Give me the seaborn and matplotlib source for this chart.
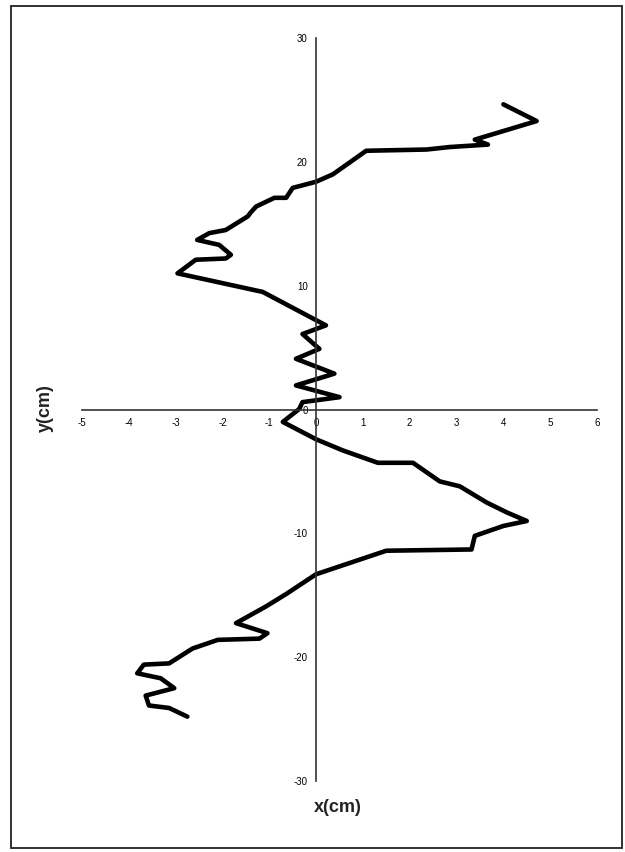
import pandas as pd
import seaborn as sns
import matplotlib.pyplot as plt
from matplotlib.patches import Rectangle

# path of the trace (top start -> bottom end)
x_cm = [4.0, 4.71, 3.39, 3.67, 2.85, 2.36, 1.07, 0.36, 0.0, -0.5, -0.64, -0.89,
        -1.28, -1.4, -1.46, -1.93, -2.28, -2.54, -2.07, -1.82, -1.93, -2.57, -2.96,
        -1.14, 0.21, -0.29, 0.07, -0.43, 0.39, -0.43, 0.5, -0.29, -0.36, -0.71,
        0.0, 0.57, 1.32, 2.07, 2.64, 3.07, 3.64, 4.07, 4.5, 4.0, 3.39, 3.32, 1.5,
        0.0, -0.64, -1.07, -1.71, -1.04, -1.21, -2.1, -2.64, -3.14, -3.68, -3.82,
        -3.32, -3.03, -3.64, -3.57, -3.14, -2.75]
y_cm = [24.65, 23.3, 21.8, 21.4, 21.2, 21.0, 20.9, 19.0, 18.4, 17.9, 17.1, 17.1,
        16.4, 15.9, 15.6, 14.5, 14.25, 13.7, 13.3, 12.5, 12.2, 12.1, 11.0,
        9.5, 6.8, 6.1, 4.9, 4.1, 2.9, 1.95, 1.0, 0.6, 0.05, -1.0,
        -2.4, -3.3, -4.3, -4.3, -5.8, -6.2, -7.5, -8.3, -9.0, -9.4, -10.2, -11.3, -11.4,
        -13.3, -14.9, -15.9, -17.25, -18.06, -18.5, -18.6, -19.3, -20.5, -20.6, -21.3,
        -21.7, -22.5, -23.1, -23.9, -24.1, -24.8]
x_ticks = [-5, -4, -3, -2, -1, 0, 1, 2, 3, 4, 5, 6]
y_ticks = [-30, -20, -10, 0, 10, 20, 30]

df = pd.DataFrame({"x": x_cm, "y": y_cm})

sns.set_style("white")
plt.rcParams['font.family'] = ['Liberation Sans', 'DejaVu Sans']

fig = plt.figure(figsize=(6.25, 8.52), dpi=100)
ax = fig.add_axes([0.1312, 0.0833, 0.824, 0.872])

sns.lineplot(data=df, x="x", y="y", sort=False, estimator=None,
             color="black", linewidth=3.3, ax=ax)

ax.set_xlim(-5, 6)
ax.set_ylim(-30, 30)
ax.set_xticks(x_ticks)
ax.set_yticks(y_ticks)
ax.set_xticklabels([str(t) for t in x_ticks])
ax.set_yticklabels([str(t) for t in y_ticks])

for side in ["top", "right"]:
    ax.spines[side].set_visible(False)
ax.spines["left"].set_position(("data", 0))
ax.spines["bottom"].set_position(("data", 0))
for side in ["left", "bottom"]:
    ax.spines[side].set_color("#333333")
    ax.spines[side].set_linewidth(1.2)

ax.tick_params(axis="x", direction="in", length=4, width=1, labelsize=7,
               pad=6, colors="#333333", labelcolor="black")
ax.tick_params(axis="y", direction="out", length=4, width=1, labelsize=7,
               pad=2, colors="#333333", labelcolor="black")
ax.set_xlabel("")
ax.set_ylabel("")

fig.text(45 / 625, 1 - 408 / 852, "y(cm)", rotation=90, ha="center", va="center",
         fontsize=13, fontweight="bold", color="#222222")
fig.text(338 / 625, 1 - 808 / 852, "x(cm)", ha="center", va="center",
         fontsize=13, fontweight="bold", color="#222222")

fig.patches.append(Rectangle((11 / 625, 4 / 852), 611 / 625, 842 / 852,
                             transform=fig.transFigure, fill=False,
                             edgecolor="#222222", linewidth=1.3))

plt.savefig("out.png", dpi=100)
